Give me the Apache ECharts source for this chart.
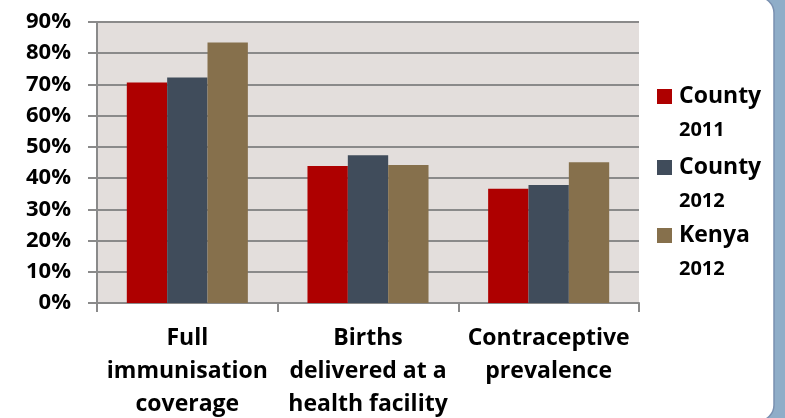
<!DOCTYPE html>
<html><head><meta charset="utf-8">
<script src="https://cdn.jsdelivr.net/npm/echarts@6/dist/echarts.min.js"></script>
<style>html,body{margin:0;padding:0;background:#fff;}#c{width:785px;height:418px;}</style>
</head><body><div id="c"></div>
<script>
const categories = ['Full\nimmunisation\ncoverage', 'Births\ndelivered at a\nhealth facility', 'Contraceptive\nprevalence'];
const county2011 = [70.6, 43.9, 36.6];
const county2012 = [72.2, 47.3, 37.8];
const kenya2012 = [83.4, 44.2, 45.1];
const seriesNames = ['County 2011', 'County 2012', 'Kenya 2012'];
const colors = ['#AE0000', '#404C5B', '#86704C'];
const yTicks = [0, 10, 20, 30, 40, 50, 60, 70, 80, 90];

const FONT = '"Open Sans"';
const chart = echarts.init(document.getElementById('c'), null, {renderer: 'canvas'});
const legendTops = [53, 124, 192];
const legends = seriesNames.map((n, i) => ({
  data: [n], left: 657, top: legendTops[i], orient: 'vertical', padding: 0,
  itemWidth: 15, itemHeight: 15, icon: 'rect', selectedMode: false,
  formatter: name => { const p = name.split(' '); return '{e| }\n{a|' + p[0] + '}\n{b|' + p[1] + '}'; },
  textStyle: { fontFamily: FONT, rich: {
    e: { fontSize: 19, lineHeight: 34 },
    a: { fontSize: 23, fontWeight: 'bold', color: '#000', lineHeight: 34, fontFamily: FONT, padding: [0,0,0,2] },
    b: { fontSize: 20, fontWeight: 'bold', color: '#000', lineHeight: 34, fontFamily: FONT, padding: [0,0,0,2] }
  }}
}));
const data = [county2011, county2012, kenya2012];
chart.setOption({
  animation: false,
  graphic: [
    { type: 'rect', shape: { x: 740, y: 0, width: 45, height: 418 }, style: { fill: '#8FADC8' }, z: -10 },
    { type: 'rect', shape: { x: -30, y: -3, width: 804, height: 424, r: [0, 16, 16, 0] }, style: { fill: '#fff', stroke: '#7A90B0', lineWidth: 1.5 }, z: -9 }
  ],
  grid: { left: 97, right: 146, top: 22, bottom: 115, show: true, backgroundColor: '#E3DEDC', borderWidth: 0, containLabel: false, outerBoundsMode: 'none' },
  legend: legends,
  xAxis: {
    type: 'category', data: categories,
    axisLine: { lineStyle: { color: '#8A8A8A', width: 2 } },
    axisTick: { show: true, length: 9, lineStyle: { color: '#8A8A8A', width: 2 } },
    axisLabel: { fontFamily: FONT, fontSize: 23, fontWeight: 'bold', color: '#000', lineHeight: 33, margin: 19, interval: 0 }
  },
  yAxis: {
    type: 'value', min: 0, max: 90, interval: 10,
    axisLine: { show: true, lineStyle: { color: '#8A8A8A', width: 2 } },
    axisTick: { show: true, length: 9, lineStyle: { color: '#8A8A8A', width: 2 } },
    splitLine: { lineStyle: { color: '#8A8A8A', width: 2 } },
    axisLabel: { fontFamily: FONT, fontSize: 22, fontWeight: 'bold', color: '#000', margin: 26, formatter: v => yTicks.includes(v) ? v + '%' : '' }
  },
  series: seriesNames.map((n, i) => ({
    name: n, type: 'bar', data: data[i], barGap: '0%', barCategoryGap: '33%',
    itemStyle: { color: colors[i] }
  }))
});
</script></body></html>
